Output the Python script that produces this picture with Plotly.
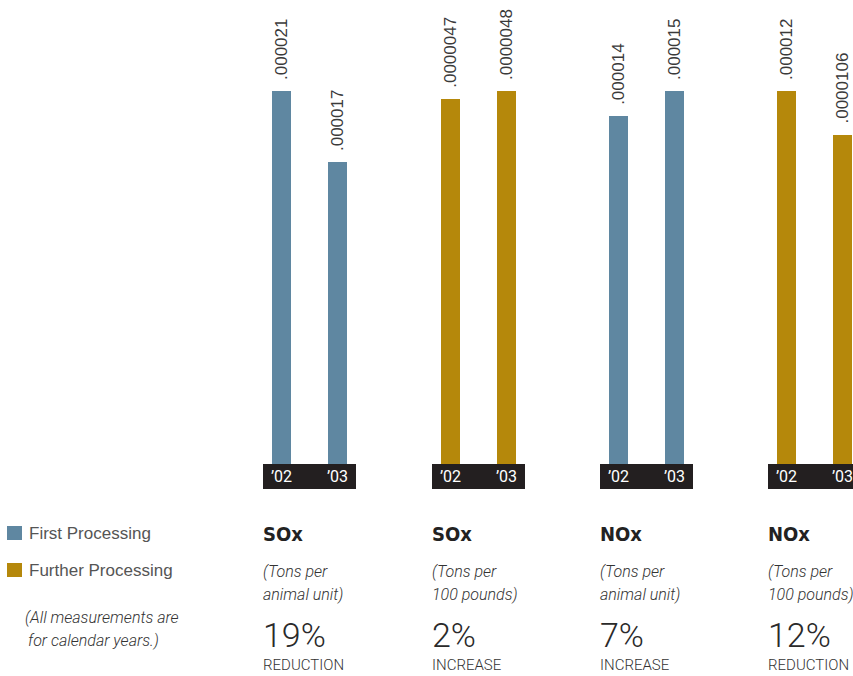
import plotly.graph_objects as go

# ---- data ----
years = ["\u201902", "\u201903"]
pollutants = ["SOx", "SOx", "NOx", "NOx"]
unit_lines = [
    ["(Tons per", "animal unit)"],
    ["(Tons per", "100 pounds)"],
    ["(Tons per", "animal unit)"],
    ["(Tons per", "100 pounds)"],
]
segments = ["First Processing", "Further Processing", "First Processing", "Further Processing"]
values_02 = [0.000021, 0.0000047, 0.000014, 0.000012]
values_03 = [0.000017, 0.0000048, 0.000015, 0.0000106]
labels_02 = [".000021", ".0000047", ".000014", ".000012"]
labels_03 = [".000017", ".0000048", ".000015", ".0000106"]
change_pct = ["19%", "2%", "7%", "12%"]
change_dir = ["REDUCTION", "INCREASE", "INCREASE", "REDUCTION"]
legend_items = ["First Processing", "Further Processing"]
note_lines = ["(All measurements are", "for calendar years.)"]

# ---- styling ----
W, H = 853, 676
seg_colors = {"First Processing": "#5f87a1", "Further Processing": "#b5880b"}
strip_color = "#231f20"
text_color = "#333333"
narrow = "Roboto, Liberation Sans, Arial"
condensed = "DejaVu Sans Condensed, Roboto, Liberation Sans"
regular = "Liberation Sans, Arial, sans-serif"

strip_left = [263, 432, 600, 768]   # left edge of each year strip (px)
strip_w = 93
pitch = 56                          # px between bar centres
first_off = 18.5                    # first bar centre from strip edge
bar_w = 19
plot_bottom, plot_top = 464, 91
strip_bottom = 489


def py(px):
    return 1 - px / H


def px_x(px):
    return px / W


fig = go.Figure()
layout = dict(
    width=W, height=H,
    margin=dict(l=0, r=0, t=0, b=0),
    paper_bgcolor="white", plot_bgcolor="white",
    showlegend=False,
    bargap=0,
)
shapes, annotations = [], []

for i in range(4):
    k = "" if i == 0 else str(i + 1)
    xa, ya = "x" + k, "y" + k
    left = strip_left[i]
    right = min(left + strip_w, W)
    vals = [values_02[i], values_03[i]]
    col = seg_colors[segments[i]]

    fig.add_trace(go.Bar(
        x=[0, 1], y=vals, width=bar_w / pitch,
        marker=dict(color=col, line=dict(width=0)),
        xaxis=xa, yaxis=ya, hoverinfo="skip",
    ))

    layout["xaxis" + k] = dict(
        domain=[px_x(left), px_x(right)],
        range=[-first_off / pitch, (right - left - first_off) / pitch],
        anchor=ya, tickvals=[0, 1], ticktext=years,
        tickfont=dict(color="white", size=16, family=narrow),
        ticklabeloverflow="allow", ticklabelstandoff=1,
        ticks="", showline=False, showgrid=False, zeroline=False,
        fixedrange=True,
    )
    layout["yaxis" + k] = dict(
        domain=[py(plot_bottom), py(plot_top)],
        range=[0, max(vals)], anchor=xa,
        visible=False, fixedrange=True,
    )

    # dark year strip under each pair of bars
    shapes.append(dict(
        type="rect", xref=xa + " domain", yref="paper",
        x0=0, x1=1, y0=py(strip_bottom), y1=py(plot_bottom),
        fillcolor=strip_color, line=dict(width=0), layer="below",
    ))

    # rotated value labels above bars
    for j, (v, lab) in enumerate(zip(vals, [labels_02[i], labels_03[i]])):
        annotations.append(dict(
            x=j, y=v, xref=xa, yref=ya, text=lab, showarrow=False,
            textangle=-90, xanchor="center", yanchor="bottom", yshift=9,
            font=dict(family=regular, size=17, color="#3a3a3a"),
        ))

    # caption block under each chart
    ax = px_x(left - 2)
    annotations.append(dict(
        x=ax, y=py(534), xref="paper", yref="paper", text="<b>" + pollutants[i] + "</b>",
        showarrow=False, xanchor="left", yanchor="middle",
        font=dict(family=condensed, size=20, color="#222222"),
    ))
    for ln, cy in zip(unit_lines[i], [571, 594]):
        annotations.append(dict(
            x=ax, y=py(cy), xref="paper", yref="paper", text="<i>" + ln + "</i>",
            showarrow=False, xanchor="left", yanchor="middle",
            font=dict(family=narrow, size=16, color=text_color, weight=300),
        ))
    annotations.append(dict(
        x=ax, y=py(635), xref="paper", yref="paper", text=change_pct[i],
        showarrow=False, xanchor="left", yanchor="middle",
        font=dict(family="Roboto, Liberation Sans", size=34, color="#2a2a2a", weight=300),
    ))
    annotations.append(dict(
        x=ax, y=py(665), xref="paper", yref="paper", text=change_dir[i],
        showarrow=False, xanchor="left", yanchor="middle",
        font=dict(family=narrow, size=15, color=text_color, weight=300),
    ))

# legend keys
for name, cy in zip(legend_items, [533, 570]):
    shapes.append(dict(
        type="rect", xref="paper", yref="paper",
        x0=px_x(7), x1=px_x(22), y0=py(cy + 7), y1=py(cy - 7),
        fillcolor=seg_colors[name], line=dict(width=0),
    ))
    annotations.append(dict(
        x=px_x(27), y=py(cy), xref="paper", yref="paper", text=name,
        showarrow=False, xanchor="left", yanchor="middle",
        font=dict(family=regular, size=17, color="#555555"),
    ))

for ln, cy, lx in zip(note_lines, [617, 640], [23, 26]):
    annotations.append(dict(
        x=px_x(lx), y=py(cy), xref="paper", yref="paper", text="<i>" + ln + "</i>",
        showarrow=False, xanchor="left", yanchor="middle",
        font=dict(family=narrow, size=16, color=text_color, weight=300),
    ))

layout["shapes"] = shapes
layout["annotations"] = annotations
fig.update_layout(**layout)
fig.write_html("out.html")
